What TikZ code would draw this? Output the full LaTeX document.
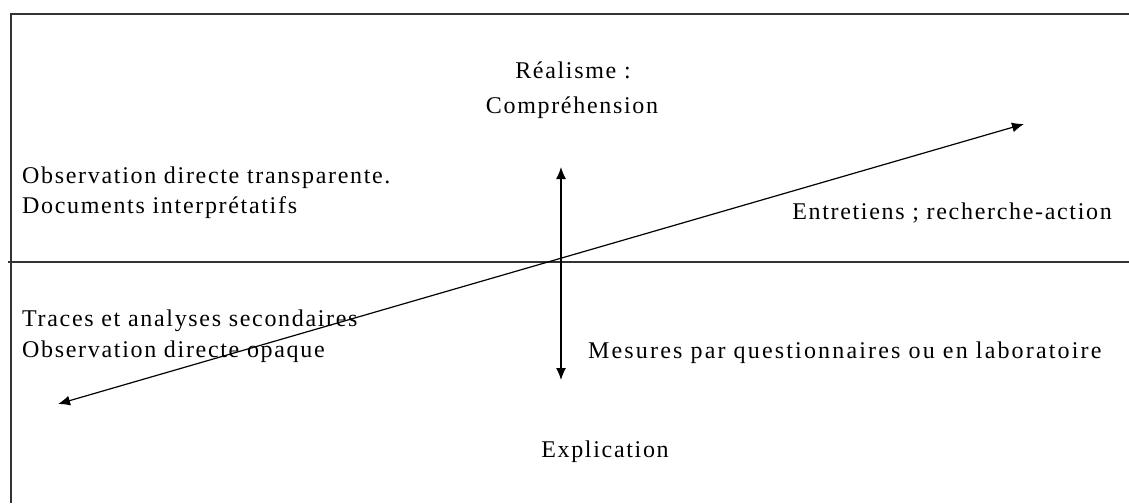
\documentclass[tikz,border=0pt]{standalone}
\usepackage{fontspec}
\setmainfont{Liberation Serif}[LetterSpace=7]
\usetikzlibrary{arrows.meta}
\tikzset{
  frame/.style={line width=2pt, draw=black!80},
  axis/.style={line width=1.2pt, {Latex[length=12pt,width=10pt]}-{Latex[length=12pt,width=10pt]}},
  lbl/.style={inner sep=0pt, font=\fontsize{24}{31}\selectfont, align=left},
}
\begin{document}
\begin{tikzpicture}[x=1pt,y=-1pt]
\useasboundingbox (0,0) rectangle (1129,503);
\coordinate (tl) at (11,14);
\coordinate (tr) at (1129,14);
\coordinate (bl) at (11,503);
\coordinate (ml) at (8,262);
\coordinate (mr) at (1129,262);
\draw[frame] (bl) -- (tl) -- (tr);
\draw[frame] (ml) -- (mr);
\coordinate (vt) at (561,167);
\coordinate (vb) at (561,380);
\coordinate (dl) at (58,404);
\coordinate (dr) at (1024,124);
\draw[axis] (vt) -- (vb);
\draw[axis] (dl) -- (dr);
\node[lbl, anchor=base] (real) at (573,78) {Réalisme :};
\node[lbl, anchor=base] (comp) at (572,113) {Compréhension};
\node[lbl, anchor=base west] (obs1) at (22,183) {Observation directe transparente.};
\node[lbl, anchor=base west] (doc) at (22,213) {Documents interprétatifs};
\node[lbl, anchor=base east] (entr) at (1112,219) {Entretiens ; recherche-action};
\node[lbl, anchor=base west] (trac) at (22,326) {Traces et analyses secondaires};
\node[lbl, anchor=base west] (opaq) at (22,357) {Observation directe opaque};
\node[lbl, anchor=base west] (mes) at (588,358) {\addfontfeature{LetterSpace=9}Mesures par questionnaires ou en laboratoire};
\node[lbl, anchor=base] (expl) at (605,457) {Explication};
\end{tikzpicture}
\end{document}
